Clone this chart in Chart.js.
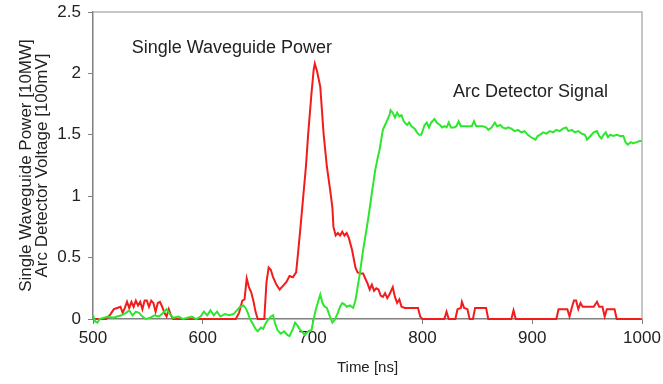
<!DOCTYPE html>
<html>
<head>
<meta charset="utf-8">
<script src="https://cdn.jsdelivr.net/npm/chart.js@4.4.0/dist/chart.umd.min.js"></script>
<style>
  html, body { margin: 0; padding: 0; background: #fff; }
  #wrap { width: 663px; height: 384px; }
</style>
</head>
<body>
<div id="wrap"><canvas id="myChart" width="663" height="384"></canvas></div>
<script>
// red trace: Single Waveguide Power [10MW]
const powerTime = [500, 512, 516, 519, 522, 525, 527, 529, 531, 533, 535, 537, 539, 541, 543, 545, 547, 549, 551, 553, 555, 557, 559, 561, 563, 565, 567, 569, 571, 573, 580, 625, 630, 633, 636, 638, 640, 642, 644, 646, 648, 650, 656, 658, 660, 662, 664, 667, 670, 673, 676, 679, 682, 685, 687, 689, 691, 694, 696, 699, 701, 702, 704, 707, 710, 713, 716, 718, 719, 721, 723, 725, 727, 729, 731, 733, 736, 739, 741, 744, 746, 748, 750, 752, 754, 756, 758, 760, 762, 764, 766, 768, 770, 773, 775, 777, 779, 781, 784, 790, 796, 798, 800, 820, 822, 824, 830, 832, 835, 836, 838, 841, 843, 846, 848, 858, 860, 881, 883, 885, 922, 924, 932, 934, 936, 938, 940, 942, 944, 946, 956, 959, 961, 964, 966, 968, 975, 977, 1000];
const powerValue = [0, 0, 0.04, 0.08, 0.09, 0.1, 0.05, 0.09, 0.14, 0.09, 0.14, 0.1, 0.15, 0.11, 0.14, 0.08, 0.15, 0.15, 0.1, 0.15, 0.13, 0.06, 0.13, 0.14, 0.1, 0.05, 0.02, 0.08, 0.03, 0, 0, 0, 0, 0.05, 0.15, 0.16, 0.33, 0.26, 0.22, 0.15, 0.06, 0, 0, 0.3, 0.42, 0.4, 0.34, 0.28, 0.24, 0.27, 0.3, 0.35, 0.34, 0.38, 0.56, 0.75, 0.95, 1.25, 1.51, 1.84, 2.03, 2.08, 2.02, 1.89, 1.51, 1.24, 1.05, 0.91, 0.75, 0.68, 0.7, 0.68, 0.71, 0.68, 0.7, 0.66, 0.56, 0.42, 0.38, 0.37, 0.37, 0.33, 0.29, 0.24, 0.28, 0.23, 0.25, 0.24, 0.19, 0.18, 0.21, 0.17, 0.2, 0.26, 0.18, 0.13, 0.16, 0.1, 0.09, 0.09, 0.09, 0.02, 0, 0, 0.06, 0, 0, 0.08, 0.09, 0.14, 0.09, 0.08, 0, 0, 0.09, 0.09, 0, 0, 0.07, 0, 0, 0.08, 0.08, 0.02, 0.09, 0.15, 0.15, 0.08, 0.13, 0.1, 0.1, 0.14, 0.1, 0.1, 0.02, 0.08, 0.08, 0, 0];

// green trace: Arc Detector Voltage [100mV]
const arcTime = [500, 502, 504, 506, 510, 514, 518, 522, 526, 530, 533, 536, 539, 542, 545, 548, 552, 556, 560, 564, 567, 570, 573, 578, 582, 586, 590, 594, 598, 601, 604, 607, 610, 613, 616, 620, 624, 628, 631, 634, 637, 639, 641, 643, 645, 648, 650, 653, 655, 657, 659, 662, 664, 666, 668, 671, 674, 677, 679, 682, 684, 686, 688, 691, 693, 696, 699, 701, 703, 705, 707, 709, 711, 713, 715, 718, 720, 723, 725, 727, 729, 731, 734, 737, 739, 741, 743, 746, 750, 752, 754, 757, 759, 761, 764, 766, 768, 770, 771, 773, 775, 777, 779, 781, 783, 786, 788, 790, 793, 795, 797, 799, 802, 804, 806, 808, 811, 813, 816, 818, 820, 822, 824, 826, 829, 831, 833, 835, 840, 845, 847, 849, 855, 858, 860, 863, 866, 868, 871, 873, 876, 878, 881, 884, 887, 890, 893, 896, 899, 901, 903, 905, 907, 910, 913, 916, 919, 922, 925, 928, 931, 933, 936, 939, 942, 945, 948, 950, 953, 956, 959, 961, 963, 965, 967, 969, 971, 974, 977, 980, 983, 985, 987, 990, 992, 995, 998, 1000];
const arcValue = [0.03, -0.02, -0.03, 0, 0.01, 0.02, 0.01, 0.02, 0.03, 0.05, 0.07, 0.03, 0.06, 0.05, 0.02, 0, 0.01, 0.03, 0.02, 0.05, 0.08, 0.04, 0.01, 0.02, 0, 0.01, 0.02, 0, 0.02, 0.06, 0.03, 0.07, 0.03, 0.06, 0.02, 0.04, 0.03, 0.04, 0.07, 0.1, 0.11, 0.09, 0.05, 0, -0.03, -0.08, -0.1, -0.07, -0.08, -0.04, -0.01, 0.02, 0.03, -0.04, -0.09, -0.12, -0.1, -0.13, -0.14, -0.08, -0.03, -0.05, -0.08, -0.11, -0.13, -0.1, -0.09, 0, 0.08, 0.14, 0.2, 0.13, 0.1, 0.09, 0.04, -0.03, -0.01, 0.05, 0.1, 0.13, 0.12, 0.1, 0.11, 0.09, 0.15, 0.26, 0.37, 0.56, 0.78, 0.9, 1.03, 1.21, 1.3, 1.38, 1.54, 1.58, 1.62, 1.66, 1.7, 1.68, 1.64, 1.68, 1.65, 1.66, 1.61, 1.58, 1.6, 1.57, 1.55, 1.52, 1.5, 1.5, 1.58, 1.6, 1.56, 1.6, 1.63, 1.6, 1.58, 1.56, 1.57, 1.56, 1.6, 1.56, 1.56, 1.57, 1.61, 1.57, 1.57, 1.57, 1.61, 1.57, 1.57, 1.56, 1.54, 1.56, 1.6, 1.57, 1.58, 1.56, 1.55, 1.56, 1.55, 1.53, 1.54, 1.52, 1.53, 1.5, 1.48, 1.47, 1.46, 1.49, 1.5, 1.52, 1.51, 1.53, 1.52, 1.54, 1.53, 1.55, 1.56, 1.53, 1.54, 1.52, 1.53, 1.51, 1.5, 1.46, 1.49, 1.52, 1.53, 1.49, 1.47, 1.5, 1.52, 1.48, 1.5, 1.49, 1.5, 1.49, 1.49, 1.44, 1.42, 1.44, 1.43, 1.44, 1.45, 1.45];

const xTicks = [500, 600, 700, 800, 900, 1000];
const yTicks = [0, 0.5, 1, 1.5, 2, 2.5];
const yTitle = ["Single Waveguide Power [10MW]", "Arc Detector Voltage [100mV]"];
const xTitle = "Time [ns]";
const labelPower = "Single Waveguide Power";
const labelArc = "Arc Detector Signal";

const fontFamily = "Arial, 'Liberation Sans', sans-serif";

function toPoints(xs, ys) {
  return xs.map((x, i) => ({ x: x, y: ys[i] }));
}

// frame on top/right plus the two text labels inside the plot
const extras = {
  id: "extras",
  afterDatasetsDraw(chart) {
    const ctx = chart.ctx;
    const area = chart.chartArea;
    const xs = chart.scales.x;
    const ys = chart.scales.y;
    ctx.save();
    ctx.strokeStyle = "#b4b4b4";
    ctx.lineWidth = 1.5;
    ctx.beginPath();
    ctx.moveTo(area.left, area.top);
    ctx.lineTo(area.right, area.top);
    ctx.lineTo(area.right, area.bottom);
    ctx.stroke();

    ctx.fillStyle = "#222";
    ctx.font = "18px " + fontFamily;
    ctx.textAlign = "center";
    ctx.textBaseline = "middle";
    ctx.fillText(labelPower, xs.getPixelForValue(626.5), ys.getPixelForValue(2.21));
    ctx.fillText(labelArc, xs.getPixelForValue(898.5), ys.getPixelForValue(1.85));
    ctx.restore();
  },
};

function createChart() {
  const data = {
    datasets: [
      {
        label: "Arc Detector Signal",
        data: toPoints(arcTime, arcValue),
        borderColor: "#2ee62e",
        borderWidth: 2,
        pointRadius: 0,
        tension: 0,
        clip: false,
      },
      {
        label: "Single Waveguide Power",
        data: toPoints(powerTime, powerValue),
        borderColor: "#f21c1c",
        borderWidth: 2,
        pointRadius: 0,
        tension: 0,
        clip: false,
      },
    ],
  };

  const config = {
    type: "line",
    data,
    options: {
      responsive: false,
      animation: false,
      layout: { padding: { left: 0, top: 12, right: 21, bottom: 0 } },
      plugins: {
        legend: { display: false },
        tooltip: { enabled: false },
      },
      scales: {
        x: {
          type: "linear",
          min: 500,
          max: 1000,
          afterBuildTicks: (axis) => {
            axis.ticks = xTicks.map((v) => ({ value: v }));
          },
          afterFit: (axis) => {
            axis.height = 65;
            axis.paddingLeft = 0;
            axis.paddingRight = 0;
          },
          grid: {
            drawOnChartArea: false,
            drawTicks: true,
            tickLength: 5,
            color: "#808080",
          },
          border: { color: "#808080", width: 1.5 },
          ticks: {
            color: "#222",
            font: { size: 17, family: fontFamily },
            padding: 4,
            maxRotation: 0,
            callback: (v) => String(v),
          },
          title: {
            display: true,
            text: xTitle,
            color: "#222",
            font: { size: 15, family: fontFamily },
            padding: { top: 6, bottom: 7 },
          },
        },
        y: {
          min: 0,
          max: 2.5,
          afterBuildTicks: (axis) => {
            axis.ticks = yTicks.map((v) => ({ value: v }));
          },
          afterFit: (axis) => {
            axis.width = 93;
            axis.paddingTop = 0;
            axis.paddingBottom = 0;
          },
          grid: {
            drawOnChartArea: false,
            drawTicks: true,
            tickLength: 5,
            color: "#808080",
          },
          border: { color: "#808080", width: 1.5 },
          ticks: {
            color: "#222",
            font: { size: 17, family: fontFamily },
            padding: 7,
            callback: (v) => String(v),
          },
          title: {
            display: true,
            text: yTitle,
            color: "#222",
            font: { size: 17, family: fontFamily, lineHeight: 0.95 },
            padding: { top: 18, bottom: 0 },
          },
        },
      },
    },
    plugins: [extras],
  };
  return new Chart(document.getElementById("myChart"), config);
}

createChart();
</script>
</body>
</html>
